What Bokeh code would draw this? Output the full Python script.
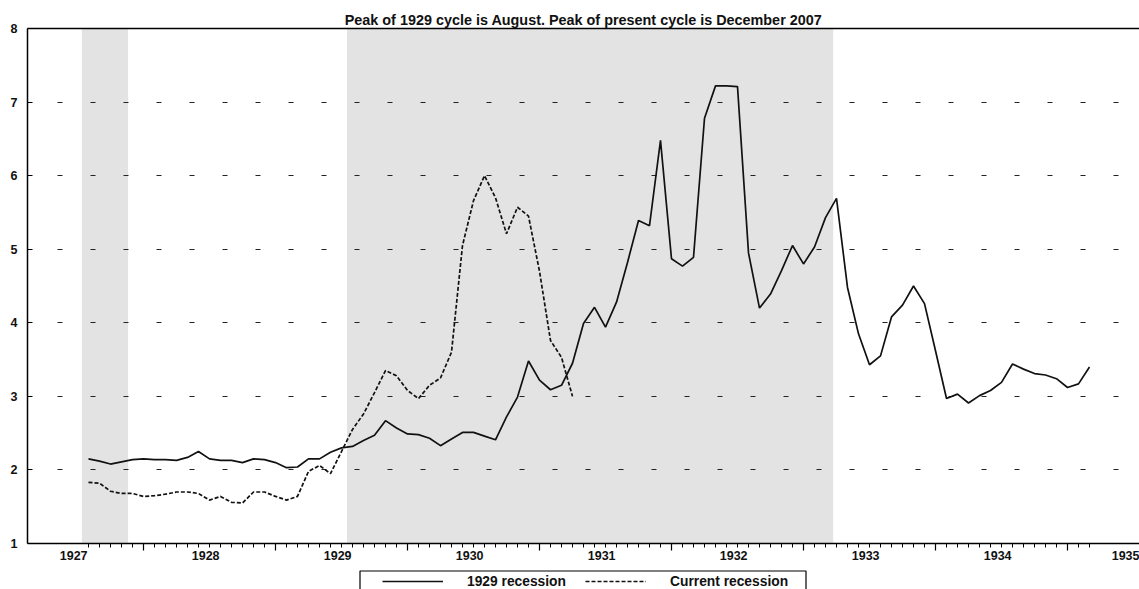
from bokeh.plotting import figure
from bokeh.layouts import column
from bokeh.models import (Range1d, FixedTicker, LinearAxis, Legend, LegendItem,
                          BoxAnnotation)
from bokeh.embed import file_html
from bokeh.resources import INLINE

# ---------------- data (monthly index from start of series) ----------------
recession_1929 = [
    2.15, 2.12, 2.08, 2.11, 2.14, 2.15, 2.14, 2.14, 2.13, 2.17,
    2.25, 2.15, 2.13, 2.13, 2.10, 2.15, 2.14, 2.10, 2.03, 2.04,
    2.15, 2.15, 2.24, 2.30, 2.32, 2.40, 2.47, 2.67, 2.57, 2.49,
    2.48, 2.43, 2.33, 2.42, 2.51, 2.51, 2.46, 2.41, 2.72, 2.99,
    3.48, 3.22, 3.09, 3.15, 3.45, 3.99, 4.21, 3.94, 4.28, 4.82,
    5.39, 5.32, 6.48, 4.87, 4.77, 4.89, 6.78, 7.22, 7.22, 7.21,
    4.95, 4.20, 4.39, 4.71, 5.05, 4.80, 5.03, 5.43, 5.69, 4.48,
    3.85, 3.43, 3.55, 4.08, 4.24, 4.50, 4.26, 3.62, 2.97, 3.03,
    2.91, 3.01, 3.08, 3.19, 3.44, 3.37, 3.31, 3.29, 3.24, 3.12,
    3.17, 3.40,
]
recession_current = [
    1.83, 1.82, 1.71, 1.68, 1.68, 1.64, 1.65, 1.67, 1.70, 1.70,
    1.68, 1.59, 1.64, 1.56, 1.55, 1.70, 1.70, 1.64, 1.59, 1.64,
    1.98, 2.06, 1.95, 2.25, 2.55, 2.76, 3.05, 3.35, 3.28, 3.08,
    2.97, 3.15, 3.25, 3.60, 5.05, 5.66, 6.00, 5.70, 5.21, 5.57,
    5.45, 4.70, 3.76, 3.53, 3.00,
]
months_1929 = list(range(len(recession_1929)))
months_current = list(range(len(recession_current)))

# shaded recession bands (month index)
band_start = [-0.6, 23.5]
band_end = [3.6, 67.7]

year_labels = ["1927", "1928", "1929", "1930", "1931", "1932", "1933", "1934", "1935"]
y_ticks = [1, 2, 3, 4, 5, 6, 7, 8]
y_grid = [2, 3, 4, 5, 6, 7]
series_names = ["1929 recession", "Current recession"]
title_text = "Peak of 1929 cycle is August. Peak of present cycle is December 2007"

# ---------------- layout helpers ----------------
FONT = "Liberation Sans"
Y_MIN, Y_MAX = 1, 8
W = 1139
LEFT = 27
major_ticks = [5 + 12 * k for k in range(8)]
minor_ticks = months_1929
label_pos = [round(-1.35 + 12 * k, 2) for k in range(len(year_labels))]
style_1929 = dict(line_color="#111111", line_width=1.7)
style_current = dict(line_color="#111111", line_width=1.7, line_dash="4 2")

p = figure(width=W, height=568, output_backend="svg", toolbar_location=None,
           x_range=Range1d(-5.545, 95.545), y_range=Range1d(Y_MIN, Y_MAX),
           x_axis_type=None, min_border_left=LEFT, min_border_right=0,
           min_border_top=28, min_border_bottom=25)
p.outline_line_color = None
p.background_fill_color = "white"

p.title.text = title_text
p.title.align = "center"
p.title.text_font = FONT
p.title.text_font_style = "bold"
p.title.text_font_size = "14.4px"
p.title.text_color = "#111111"
p.title.standoff = 2

# shaded bands
p.quad(left=band_start, right=band_end, bottom=Y_MIN, top=Y_MAX,
       fill_color="#e3e3e3", line_color=None, level="image")

# y axis
ya = p.yaxis[0]
ya.ticker = FixedTicker(ticks=y_ticks)
ya.major_tick_in = 5
ya.major_tick_out = 0
ya.minor_tick_line_color = None
ya.axis_line_width = 1.5
ya.major_tick_line_width = 1
ya.major_label_standoff = 10
ya.major_label_text_font = FONT
ya.major_label_text_font_style = "bold"
ya.major_label_text_font_size = "12.5px"
ya.major_label_text_color = "#111111"

p.ygrid.ticker = FixedTicker(ticks=y_grid)
p.ygrid.grid_line_color = "#222222"
p.ygrid.grid_line_dash = "5 28"
p.ygrid.grid_line_dash_offset = 3
p.ygrid.grid_line_width = 1

# top border
top_axis = LinearAxis(ticker=FixedTicker(ticks=[]), major_label_text_font_size="1px",
                      major_label_text_color=None,
                      major_tick_out=0, major_tick_in=0, minor_tick_out=0, minor_tick_in=0,
                      major_label_standoff=0, axis_line_width=1.5, axis_line_color="black")
p.add_layout(top_axis, "above")

# bottom tick axis (marks only)
tick_axis = LinearAxis(ticker=FixedTicker(ticks=major_ticks, minor_ticks=minor_ticks),
                       major_label_text_font_size="1px", major_label_text_color=None,
                       major_label_standoff=0,
                       major_tick_out=7, major_tick_in=0, minor_tick_out=4, minor_tick_in=0,
                       axis_line_width=1.5, major_tick_line_width=1.2, minor_tick_line_width=1)
p.add_layout(tick_axis, "below")

# bottom label axis (year labels)
label_axis = LinearAxis(ticker=FixedTicker(ticks=label_pos),
                        major_label_overrides=dict(zip(label_pos, year_labels)),
                        axis_line_color=None, major_tick_line_color=None,
                        minor_tick_line_color=None, major_tick_out=0, major_tick_in=0,
                        minor_tick_out=0, minor_tick_in=0, major_label_standoff=0,
                        major_label_text_font=FONT, major_label_text_font_style="bold",
                        major_label_text_font_size="12.5px", major_label_text_color="#111111")
p.add_layout(label_axis, "below")

# series
p.line(months_1929, recession_1929, **style_1929)
p.line(months_current, recession_current, **style_current)

# ---------------- legend strip below the chart ----------------
# (its frame is aligned with the chart frame by the column layout; x in page pixels)
q = figure(width=W, height=21, output_backend="svg", toolbar_location=None,
           x_range=Range1d(LEFT, W), y_range=Range1d(0, 21),
           x_axis_location=None, y_axis_location=None,
           min_border_left=LEFT, min_border_right=0, min_border_top=0, min_border_bottom=0)
q.outline_line_color = None
q.xgrid.visible = False
q.ygrid.visible = False
q.background_fill_color = "white"

nan = float("nan")
k1 = q.line(x=[nan], y=[nan], **style_1929)
k2 = q.line(x=[nan], y=[nan], **style_current)

legend = Legend(items=[LegendItem(label=series_names[0], renderers=[k1]),
                       LegendItem(label=series_names[1], renderers=[k2])],
                orientation="horizontal", location=(382 - LEFT, 0),
                glyph_width=61, glyph_height=16, label_height=16, label_width=105,
                label_standoff=24, spacing=13, padding=0, margin=0,
                label_text_font=FONT, label_text_font_style="bold",
                label_text_font_size="13.8px", label_text_color="#111111",
                border_line_color=None, background_fill_alpha=0)
q.add_layout(legend, "center")

q.add_layout(BoxAnnotation(left=359.5, right=805.5, bottom=-10, top=18.5,
                           fill_alpha=0, line_color="black", line_alpha=1,
                           line_width=1.2))

open("out.html", "w").write(file_html(column(p, q), INLINE))
